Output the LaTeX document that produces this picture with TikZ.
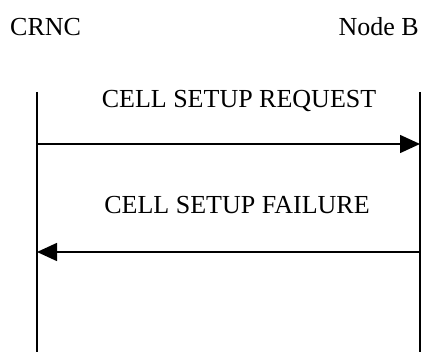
\documentclass[tikz,border=0pt]{standalone}
\usepackage{fontspec}
\setmainfont{Liberation Serif}
\usetikzlibrary{arrows.meta}
\begin{document}
\begin{tikzpicture}[x=1pt,y=-1pt,
  lbl/.style={inner sep=0pt,font=\fontsize{26}{30}\selectfont},
  life/.style={line width=1.5pt},
  msg/.style={line width=1.5pt,-{Triangle[length=20pt,width=18pt]}}]
\useasboundingbox (0,0) rectangle (426,352);
\node[lbl,anchor=west] (crnc) at (10,27) {CRNC};
\node[lbl,anchor=east] (nodeb) at (419,27) {Node B};
\coordinate (lt) at (37,92);
\coordinate (lb) at (37,352);
\coordinate (rt) at (420,92);
\coordinate (rb) at (420,352);
\draw[life] (lt) -- (lb);
\draw[life] (rt) -- (rb);
\coordinate (a1s) at (37,144);
\coordinate (a1e) at (420,144);
\coordinate (a2s) at (420,252);
\coordinate (a2e) at (37,252);
\draw[msg] (a1s) -- (a1e);
\draw[msg] (a2s) -- (a2e);
\node[lbl] (req) at (239,101) {CELL SETUP REQUEST};
\node[lbl] (fail) at (237,205) {CELL SETUP FAILURE};
\end{tikzpicture}
\end{document}
